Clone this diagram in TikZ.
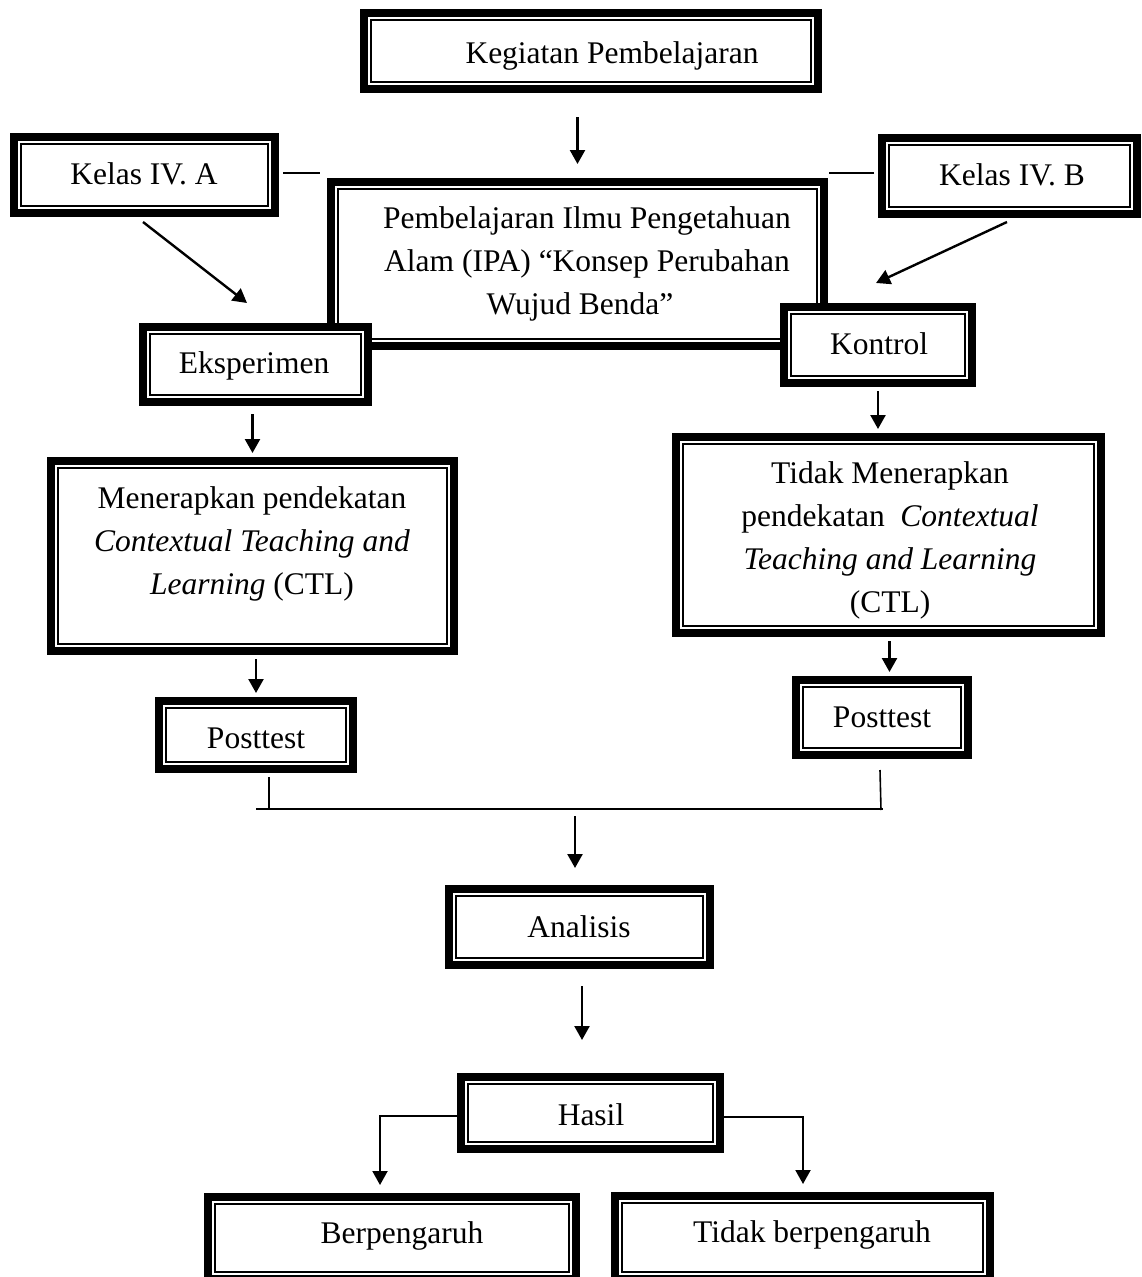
\documentclass[tikz,border=0pt]{standalone}
\usepackage{fontspec}
\setmainfont{Liberation Serif}
\usetikzlibrary{arrows.meta}
\tikzset{
  dbl/.style={draw, line width=8pt, fill=white, inner sep=0pt, rectangle,
    path picture={\draw[line width=1.9pt]
      ([xshift=7.2pt,yshift=-7.2pt]path picture bounding box.north west) rectangle
      ([xshift=-7.2pt,yshift=7.2pt]path picture bounding box.south east);}},
  txt/.style={inner sep=0pt, font=\fontsize{31.5}{43}\selectfont, align=center},
  arr/.style={line width=2.4pt, -{Triangle[length=14pt,width=15pt]}},
  ln/.style={line width=1.6pt},
}
\begin{document}
\begin{tikzpicture}[x=1pt,y=-1pt]
\path[use as bounding box] (0,0) rectangle (1142,1277);
\clip (0,0) rectangle (1142,1277);

% boxes
\node[dbl, minimum width=454pt, minimum height=76pt] (kg) at (591,51) {};
\node[dbl, minimum width=261pt, minimum height=76pt] (ka) at (144.5,175) {};
\node[dbl, minimum width=255pt, minimum height=76pt] (kb) at (1009.5,176) {};
\node[dbl, minimum width=493pt, minimum height=164pt] (main) at (577.5,264) {};
\node[dbl, minimum width=225pt, minimum height=75pt] (eks) at (255.5,364.5) {};
\node[dbl, minimum width=188pt, minimum height=76pt] (kon) at (878,345) {};
\node[dbl, minimum width=403pt, minimum height=190pt] (ctl) at (252.5,556) {};
\node[dbl, minimum width=425pt, minimum height=196pt] (tctl) at (888.5,535) {};
\node[dbl, minimum width=194pt, minimum height=68pt] (ptl) at (256,735) {};
\node[dbl, minimum width=172pt, minimum height=75pt] (ptr) at (882,717.5) {};
\node[dbl, minimum width=261pt, minimum height=76pt] (ana) at (579.5,927) {};
\node[dbl, minimum width=259pt, minimum height=72pt] (has) at (590.5,1113) {};
\node[dbl, minimum width=368pt, minimum height=82pt] (ber) at (392,1238) {};
\node[dbl, minimum width=375pt, minimum height=83pt] (tber) at (802.5,1237.5) {};

% texts
\node[txt, anchor=base] (kgt) at (612,63) {Kegiatan Pembelajaran};
\node[txt, anchor=base] (kat) at (144,184) {Kelas IV. A};
\node[txt, anchor=base] (kbt) at (1012,185) {Kelas IV. B};
\node[txt, anchor=north] (maint) at (587,206.5) {Pembelajaran Ilmu Pengetahuan\\Alam (IPA) “Konsep Perubahan\\\hspace*{-14pt}Wujud Benda”};
\node[txt, anchor=base] (ekst) at (254,373) {Eksperimen};
\node[txt, anchor=base] (kont) at (879,354) {Kontrol};
\node[txt, anchor=north] (ctlt) at (252,486.5) {Menerapkan pendekatan\\\textit{Contextual Teaching and}\\\textit{Learning} (CTL)};
\node[txt, anchor=north] (tctlt) at (890,461.5) {Tidak Menerapkan\\pendekatan\ \ \textit{Contextual}\\\textit{Teaching and Learning}\\(CTL)};
\node[txt, anchor=base] (ptlt) at (256,748) {Posttest};
\node[txt, anchor=base] (ptrt) at (882,727) {Posttest};
\node[txt, anchor=base] (anat) at (579,937) {Analisis};
\node[txt, anchor=base] (hast) at (591,1125) {Hasil};
\node[txt, anchor=base] (bert) at (402,1243) {Berpengaruh};
\node[txt, anchor=base] (tbert) at (812,1242) {Tidak berpengaruh};

% connectors
\draw[arr, shorten <=24pt, shorten >=14pt] (kg.south -| main.north) -- (main.north);
\draw[ln] ([shift={(4,-2)}]ka.east) -- ++(37,0);
\draw[ln] ([shift={(-4,-3)}]kb.west) -- ++(-45,0);
\draw[arr] ([shift={(-1.5,5)}]ka.south) -- ([shift={(-8.5,-20)}]eks.north);
\draw[arr] ([shift={(-2.5,4)}]kb.south) -- ([shift={(-2,-20)}]kon.north);
\draw[arr, shorten <=8pt, shorten >=4pt] (eks.south -| ctl.north) -- (ctl.north);
\draw[arr, shorten <=4pt, shorten >=4pt] (ctl.south -| ptl.north) -- (ptl.north);
\draw[arr, shorten <=4pt, shorten >=4pt] (kon.south) -- (kon.south |- tctl.north);
\draw[arr, shorten <=4pt, shorten >=4pt] ([xshift=1pt]tctl.south) -- ([xshift=1pt]tctl.south |- ptr.north);

\coordinate (hl) at (256,809);
\coordinate (hr) at (883,809);
\coordinate (jm) at (575,816);
\draw[ln] ([shift={(13,4)}]ptl.south) -- ++(0,33);
\draw[ln] ([shift={(-2,11)}]ptr.south) -- ++(1,40);
\draw[ln] (hl) -- (hr);
\draw[arr, shorten >=17pt] (jm) -- (jm |- ana.north);
\draw[arr, shorten <=17pt, shorten >=33pt] ([xshift=2.5pt]ana.south) -- ([xshift=2.5pt]ana.south |- has.north);
\draw[arr, line width=2pt, shorten >=8pt] ([yshift=-3pt]has.west) -| ([xshift=-12pt]ber.north);
\draw[arr, line width=2pt, shorten >=8pt] ([yshift=-4pt]has.east) -| ([xshift=0.5pt]tber.north);
\end{tikzpicture}
\end{document}
